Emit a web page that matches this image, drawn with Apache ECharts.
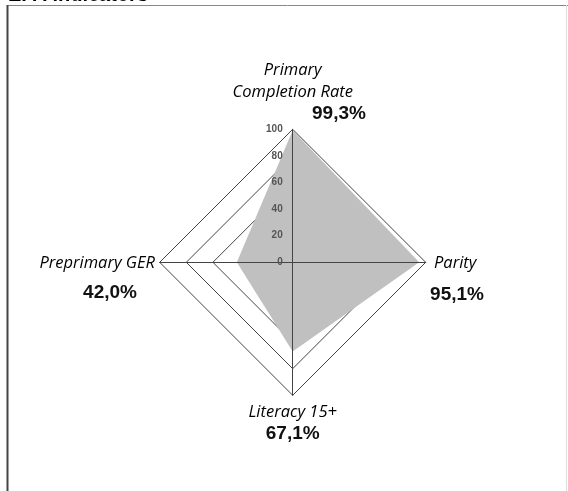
<!DOCTYPE html>
<html>
<head>
<meta charset="utf-8">
<script src="https://cdn.jsdelivr.net/npm/echarts@6/dist/echarts.min.js"></script>
<style>
html,body{margin:0;padding:0;background:#fff;}
#c{width:568px;height:491px;}
</style>
</head>
<body>
<div id="c"></div>
<script>
// ---- data ----
var titleText = 'EFA indicators';
var indicatorNames = ['Primary\nCompletion Rate', 'Preprimary GER', 'Literacy 15+', 'Parity'];
var values = [99.3, 42.0, 67.1, 95.1];
var axisMax = 100;
var tickLabels = [0, 20, 40, 60, 80, 100];

function fmt(v) { return v.toFixed(1).replace('.', ',') + '%'; }

var cx = 292.7, cy = 262.3, R = 133;

var nameFont = 'italic 16.5px "Open Sans", Lato, sans-serif';
var valFont = 'bold 19px "Liberation Sans", Arial, sans-serif';

// label placement (layout only)
var namePos = [
  {x: cx, y: 81, align: 'center'},
  {x: 155, y: 263, align: 'right'},
  {x: cx, y: 412, align: 'center'},
  {x: 434, y: 263, align: 'left'}
];
var valPos = [
  {x: 312, y: 114, align: 'left'},
  {x: 110, y: 293, align: 'center'},
  {x: cx, y: 434, align: 'center'},
  {x: 457, y: 295, align: 'center'}
];

var graphics = [
  {type: 'text', left: 8, top: -15, style: {text: titleText, font: 'bold 20px "Liberation Sans", Arial, sans-serif', fill: '#000'}},
  {type: 'line', shape: {x1: 7, y1: 5.5, x2: 568, y2: 5.5}, style: {stroke: '#888', lineWidth: 1}},
  {type: 'line', shape: {x1: 7.5, y1: 5, x2: 7.5, y2: 491}, style: {stroke: '#444', lineWidth: 2}},
  {type: 'line', shape: {x1: 566.5, y1: 5, x2: 566.5, y2: 491}, style: {stroke: '#ddd', lineWidth: 1}}
];
indicatorNames.forEach(function (n, i) {
  graphics.push({type: 'text', x: namePos[i].x, y: namePos[i].y,
    style: {text: n, font: nameFont, fill: '#000', align: namePos[i].align, verticalAlign: 'middle', lineHeight: 22}});
  graphics.push({type: 'text', x: valPos[i].x, y: valPos[i].y,
    style: {text: fmt(values[i]), font: valFont, fill: '#111', align: valPos[i].align, verticalAlign: 'middle'}});
});

var indicators = indicatorNames.map(function (n) { return {name: n, min: 0, max: axisMax}; });

var chart = echarts.init(document.getElementById('c'), null, {renderer: 'canvas'});
chart.setOption({
  animation: false,
  backgroundColor: '#fff',
  radar: [{
    center: [cx, cy], radius: R, shape: 'polygon', startAngle: 90, splitNumber: 5,
    indicator: indicators,
    axisName: {show: false},
    splitLine: {lineStyle: {color: '#444', width: 1}},
    splitArea: {show: false},
    axisLine: {show: false},
    axisTick: {show: false},
    z: 1
  }, {
    center: [cx, cy], radius: R, shape: 'polygon', startAngle: 90, splitNumber: 5,
    indicator: indicators,
    axisName: {show: false},
    splitLine: {show: false},
    splitArea: {show: false},
    axisLine: {lineStyle: {color: '#444', width: 1}},
    axisTick: {show: false},
    z: 3
  }],
  grid: {left: cx, top: cy - R, width: 1, height: R, containLabel: false},
  xAxis: {type: 'value', show: false},
  yAxis: {
    type: 'value', min: 0, max: axisMax, interval: 20,
    axisLine: {show: false}, axisTick: {show: false}, splitLine: {show: false},
    axisLabel: {fontSize: 10, color: '#555', fontWeight: 'bold', margin: 10, fontFamily: 'Liberation Sans, Arial, sans-serif',
      formatter: function (v) { return tickLabels.indexOf(v) >= 0 ? String(v) : ''; }},
    z: 4
  },
  series: [{
    type: 'radar', radarIndex: 0, symbol: 'none', z: 2,
    lineStyle: {width: 0, opacity: 0},
    areaStyle: {color: '#c0c0c0', opacity: 1},
    data: [{value: values}]
  }],
  graphic: graphics
});
</script>
</body>
</html>
